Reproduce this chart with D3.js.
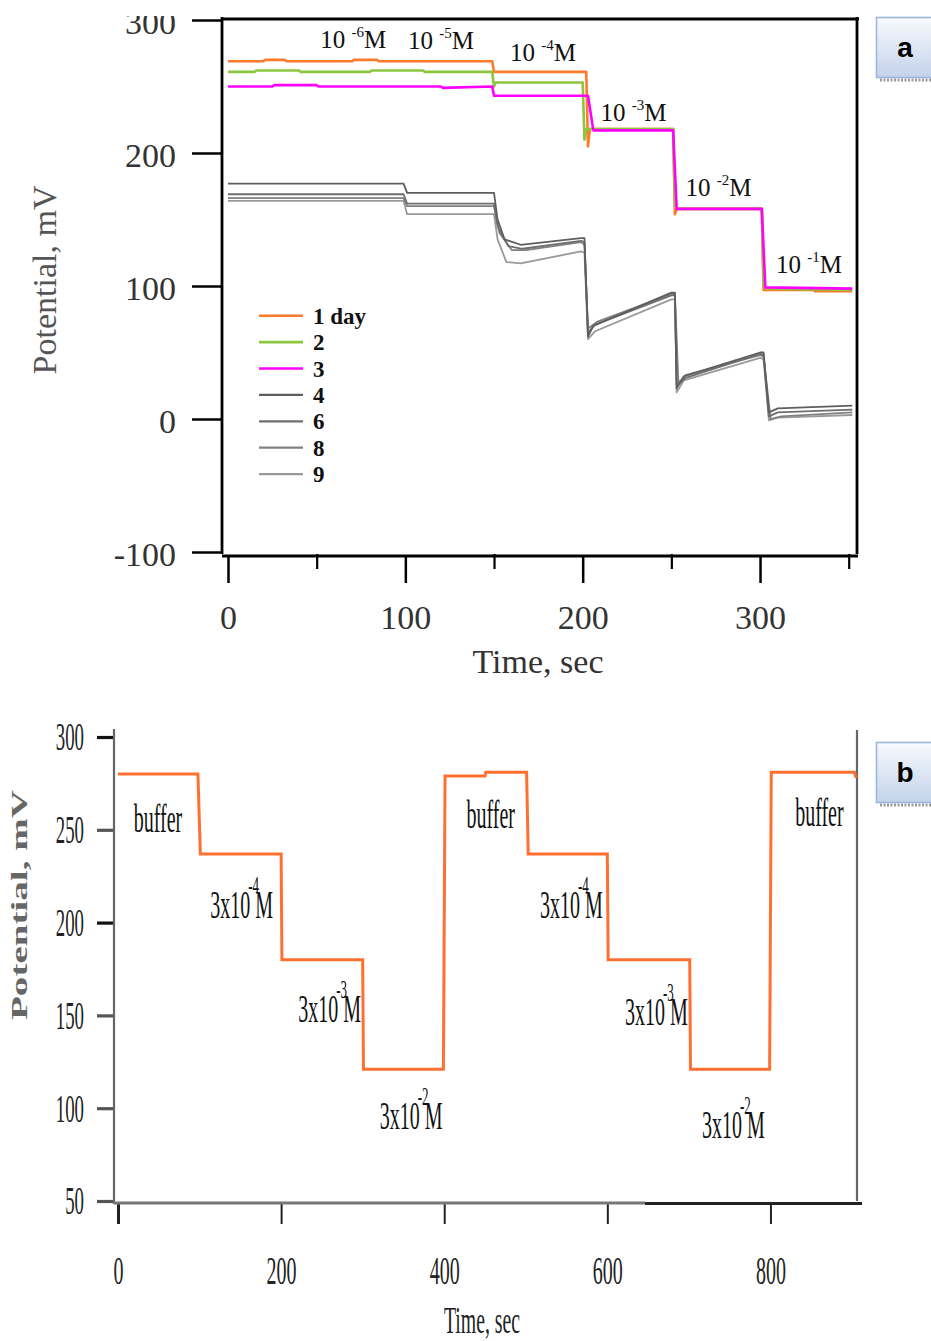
<!DOCTYPE html>
<html><head><meta charset="utf-8">
<script src="https://cdn.jsdelivr.net/npm/d3@7"></script>
<style>html,body{margin:0;padding:0;background:#fff}svg{display:block}</style>
</head><body>
<svg id="c" width="931" height="1341"></svg>
<script>
// ---------- Panel a data (time s, potential mV) ----------
const day1=[[0,269],[20,269],[21,270],[32,270],[33,269],[70,269],[71,270],[84,270],[85,269],[149,269],[150,261],[202,261],[203,205],[204,218],[251,218],[252,154],[253,158],[301,158],[302,97],[330,97],[331,96],[352,96]];
const day2=[[0,261],[15,261],[16,262],[40,262],[41,261],[80,261],[81,262],[110,262],[111,261],[149,261],[150,250],[151,253],[200,253],[201,210],[202,218],[251,218],[252,160],[253,158],[301,158],[302,100],[304,98],[352,97]];
const day3=[[0,250],[25,250],[26,251],[50,251],[51,250],[120,250],[121,249],[149,250],[150,243],[203,243],[206,217],[251,217],[253,158],[301,158],[303,99],[352,98]];
const day4=[[0,177],[99,177],[101,170],[150,170],[152,150],[156,135],[165,131],[199,136],[201,136],[203,62],[206,70],[250,95],[252,95],[253,23],[257,32],[300,50],[302,50],[305,5],[310,8],[352,10]];
const day6=[[0,169],[99,169],[101,162],[150,162],[152,145],[158,130],[166,128],[199,134],[201,133],[203,65],[207,71],[250,93],[252,93],[253,25],[258,31],[300,49],[302,48],[305,2],[310,5],[352,7]];
const day8=[[0,166],[99,166],[101,160],[150,160],[153,140],[160,127],[168,127],[199,133],[201,131],[203,68],[208,73],[250,94],[252,94],[254,27],[258,33],[300,48],[302,47],[306,0],[312,2],[352,5]];
const day9=[[0,164],[99,164],[101,154],[150,154],[152,135],[157,118],[165,117],[199,126],[201,125],[203,60],[207,66],[250,90],[252,90],[253,20],[257,29],[300,46],[302,45],[305,-1],[310,1],[352,3]];
const seriesA=[day1,day2,day3,day4,day6,day8,day9];
const legendLabelsA=["1 day","2","3","4","6","8","9"];
const colorsA=["#ff7a2a","#8cc63e","#ff00ff","#5e5e5e","#6e6e6e","#808080","#999999"];
const yTicksA=[-100,0,100,200,300];
const xTicksA=[0,100,200,300];
const xMinorA=[50,150,250,350];
// concentration labels: [base, exponent, time, potential]
const concLabelsA=[["10 ","-6",52,279],["10 ","-5",101.5,278],["10 ","-4",159,269],["10 ","-3",210,224],["10 ","-2",258,168],["10 ","-1",309,110]];

// ---------- Panel b data ----------
const responseB=[[0,280],[98,280],[101,237],[200,237],[201,180],[300,180],[301,121],[399,121],[401,279],[450,279],[451,281],[501,281],[503,237],[600,237],[601,180],[701,180],[702,121],[799,121],[801,281],[903,281],[905,278]];
const yTicksB=[50,100,150,200,250,300];
const xTicksB=[0,200,400,600,800];
// annotations: [text, exponent or null, time, potential]
const annB=[["buffer",null,49,249],["3x10","-4",113,202.5],["3x10","-3",221,146.6],["3x10","-2",321,89],
            ["buffer",null,457,251],["3x10","-4",517.5,202.5],["3x10","-3",621.7,145],["3x10","-2",716,84],["buffer",null,860,252]];

const svg=d3.select('#c');
svg.append('rect').attr('width',931).attr('height',1341).attr('fill','#fff');
const SERIF='"Liberation Serif","Times New Roman",serif';
const SANS='"Liberation Sans",Arial,sans-serif';
const fmt=d=>String(d);

const defs=svg.append('defs');
const gr=defs.append('linearGradient').attr('id','tag').attr('x1',0).attr('y1',0).attr('x2',0).attr('y2',1);
gr.append('stop').attr('offset','0%').attr('stop-color','#f8fafd');
gr.append('stop').attr('offset','100%').attr('stop-color','#c3d3ea');

// ================= Panel a =================
const xA=d3.scaleLinear().domain([0,350]).range([228,848.7]);
const yA=d3.scaleLinear().domain([-100,300]).range([552,20]);
const gA=svg.append('g');
const lineA=d3.line().x(d=>xA(d[0])).y(d=>yA(d[1]));
[6,5,4,3,0,1,2].forEach(i=>{
  gA.append('path').attr('d',lineA(seriesA[i])).attr('fill','none')
    .attr('stroke',colorsA[i]).attr('stroke-width',i<3?2.6:1.8).attr('stroke-linejoin','round');
});

gA.append('g').attr('transform','translate(222,0)')
  .call(d3.axisLeft(yA).tickValues(yTicksA).tickFormat(fmt).tickSize(30).tickPadding(16).tickSizeOuter(0))
  .call(g=>{g.select('.domain').remove();
    g.selectAll('line').attr('stroke','#000').attr('stroke-width',2.5);
    g.selectAll('text').attr('dy','0.4em').attr('font-family',SERIF).attr('font-size',34).attr('fill','#333');});
gA.append('g').attr('transform','translate(0,556)')
  .call(d3.axisBottom(xA).tickValues(xTicksA).tickFormat(fmt).tickSize(27).tickPadding(22).tickSizeOuter(0))
  .call(g=>{g.select('.domain').remove();
    g.selectAll('line').attr('stroke','#000').attr('stroke-width',2.5);
    g.selectAll('text').attr('font-family',SERIF).attr('font-size',34).attr('fill','#333');});
gA.append('g').attr('transform','translate(0,554)')
  .call(d3.axisBottom(xA).tickValues(xMinorA).tickSize(15).tickFormat(()=>'').tickSizeOuter(0))
  .call(g=>{g.select('.domain').remove();g.selectAll('line').attr('stroke','#000').attr('stroke-width',2.2);});
const fr=[[222,17,222,554],[221,19,859,19],[857,17,857,554],[222,556,858,556]];
fr.forEach(l=>gA.append('line').attr('x1',l[0]).attr('y1',l[1]).attr('x2',l[2]).attr('y2',l[3]).attr('stroke','#000').attr('stroke-width',2.8));
gA.append('rect').attr('x',90).attr('y',0).attr('width',110).attr('height',16).attr('fill','#fff');

gA.append('text').attr('transform','translate(56,280) rotate(-90)').attr('text-anchor','middle')
  .attr('font-family',SERIF).attr('font-size',34).attr('fill','#555').text('Potential, mV');
gA.append('text').attr('x',538).attr('y',673).attr('text-anchor','middle')
  .attr('font-family',SERIF).attr('font-size',34).attr('fill','#333').text('Time, sec');

concLabelsA.forEach(d=>{
  const t=gA.append('text').attr('x',xA(d[2])).attr('y',yA(d[3])).attr('font-family',SERIF).attr('font-size',25).attr('fill','#111');
  t.append('tspan').text(d[0]);
  t.append('tspan').attr('dy',-11).attr('font-size',15).text(d[1]);
  t.append('tspan').attr('dy',11).text('M');
});

legendLabelsA.forEach((lab,i)=>{
  const y=315.7+i*26.4;
  gA.append('line').attr('x1',259).attr('x2',303).attr('y1',y).attr('y2',y).attr('stroke',colorsA[i]).attr('stroke-width',i<3?2.6:2.2);
  gA.append('text').attr('x',313).attr('y',y+8).attr('font-family',SERIF).attr('font-weight','bold').attr('font-size',23).attr('fill','#111').text(lab);
});

// ================= Panel b =================
const xB=d3.scaleLinear().domain([0,900]).range([118,852]);
const yB=d3.scaleLinear().domain([50,300]).range([1201,737]);
const gB=svg.append('g');
function squeeze(sel,f){sel.each(function(){const w=this.getComputedTextLength();d3.select(this).attr('textLength',w*f).attr('lengthAdjust','spacingAndGlyphs');});}

gB.append('g').attr('transform','translate(114,0)')
  .call(d3.axisLeft(yB).tickValues(yTicksB).tickFormat(fmt).tickSize(17).tickPadding(13).tickSizeOuter(0))
  .call(g=>{g.select('.domain').remove();
    g.selectAll('line').attr('stroke',d=>(d===300||d===200)?'#111':'#555').attr('stroke-width',3.2);
    g.selectAll('text').attr('font-family',SERIF).attr('font-size',40).attr('fill','#222').call(s=>squeeze(s,0.47));});
gB.append('g').attr('transform','translate(0,1203)')
  .call(d3.axisBottom(xB).tickValues(xTicksB).tickFormat(fmt).tickSize(21).tickPadding(32).tickSizeOuter(0))
  .call(g=>{g.select('.domain').remove();
    g.selectAll('line').attr('stroke','#222').attr('stroke-width',d=>d===0?3:2);
    g.selectAll('text').attr('font-family',SERIF).attr('font-size',40).attr('fill','#222').call(s=>squeeze(s,0.5));});

gB.append('line').attr('x1',114).attr('x2',114).attr('y1',729).attr('y2',1204).attr('stroke','#666').attr('stroke-width',2.2);
gB.append('line').attr('x1',857).attr('x2',857).attr('y1',730).attr('y2',1201).attr('stroke','#666').attr('stroke-width',2.2);
gB.append('line').attr('x1',114).attr('x2',645).attr('y1',1203).attr('y2',1203).attr('stroke','#777').attr('stroke-width',3.2);
gB.append('line').attr('x1',645).attr('x2',862).attr('y1',1203.5).attr('y2',1203.5).attr('stroke','#222').attr('stroke-width',3.2);

const lineB=d3.line().x(d=>xB(d[0])).y(d=>yB(d[1]));
gB.append('path').attr('d',lineB(responseB)).attr('fill','none').attr('stroke','#ff7030').attr('stroke-width',3);

annB.forEach(d=>{
  const g=gB.append('g').attr('transform',`translate(${xB(d[2])},${yB(d[3])}) scale(0.5,1)`);
  const t=g.append('text').attr('font-family',SERIF).attr('font-size',40).attr('fill','#111');
  if(d[1]===null){t.attr('text-anchor','middle').text(d[0]);}
  else{
    t.append('tspan').text(d[0]);
    t.append('tspan').attr('x',76).attr('dy',-24).attr('font-size',26).text(d[1]);
    t.append('tspan').attr('x',90).attr('dy',24).text('M');
  }
});

gB.append('text').attr('transform','translate(27,905) rotate(-90)').attr('text-anchor','middle')
  .attr('font-family',SERIF).attr('font-weight','bold').attr('font-size',24).attr('fill','#666')
  .attr('textLength',230).attr('lengthAdjust','spacingAndGlyphs').text('Potential, mV');
gB.append('text').attr('x',482).attr('y',1333).attr('text-anchor','middle')
  .attr('font-family',SERIF).attr('font-size',38).attr('fill','#222')
  .attr('textLength',76).attr('lengthAdjust','spacingAndGlyphs').text('Time, sec');

// ================= Panel tags =================
[["a",17],["b",742]].forEach(([lab,y0])=>{
  const g=svg.append('g');
  g.append('line').attr('x1',880).attr('x2',931).attr('y1',y0+63).attr('y2',y0+63).attr('stroke','#9a9a9a').attr('stroke-width',3).attr('stroke-dasharray','2,1.5');
  g.append('rect').attr('x',876.5).attr('y',y0+0.5).attr('width',60).attr('height',60).attr('fill','url(#tag)').attr('stroke','#9db6da').attr('stroke-width',1.6);
  g.append('text').attr('x',905).attr('y',y0+40).attr('text-anchor','middle').attr('font-family',SANS).attr('font-weight','bold').attr('font-size',28).attr('fill','#000').text(lab);
});
</script>
</body></html>
